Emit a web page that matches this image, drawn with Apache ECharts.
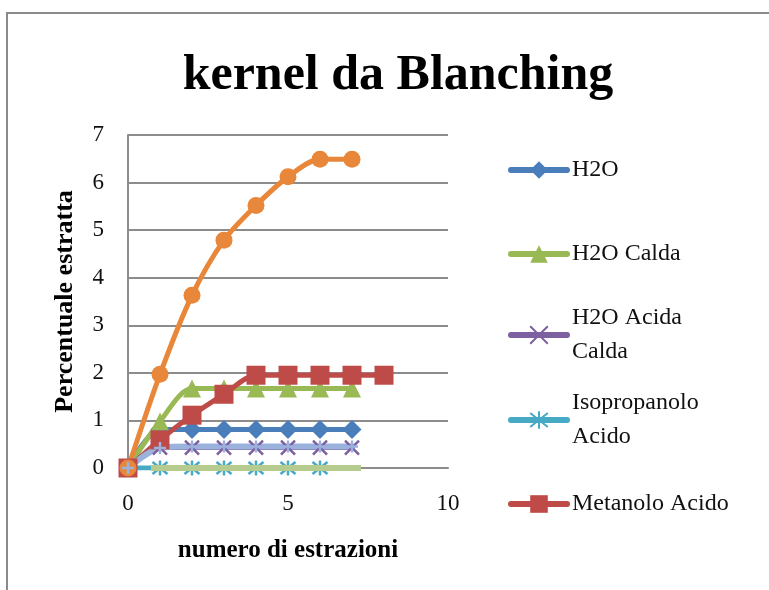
<!DOCTYPE html>
<html>
<head>
<meta charset="utf-8">
<script src="https://cdn.jsdelivr.net/npm/echarts@6/dist/echarts.min.js"></script>
<style>
  html, body { margin: 0; padding: 0; background: #fff; }
  #chart { width: 769px; height: 590px; }
</style>
</head>
<body>
<div id="chart"></div>
<script>
// estrazioni (asse x)
const xSteps = [0, 1, 2, 3, 4, 5, 6, 7, 8];

// serie con legenda
const h2o = [0, 0.81, 0.81, 0.81, 0.81, 0.81, 0.81, 0.81];
const h2oCalda = [0, 0.98, 1.67, 1.67, 1.67, 1.67, 1.67, 1.67];
const h2oAcidaCalda = [0, 0.43, 0.43, 0.43, 0.43, 0.43, 0.43, 0.43];
const isopropanoloAcido = [0, 0, 0, 0, 0, 0, 0];
const metanoloAcido = [0, 0.59, 1.11, 1.55, 1.95, 1.95, 1.95, 1.95, 1.95];
// serie senza voce in legenda
const serie6 = [0, 1.97, 3.63, 4.79, 5.52, 6.12, 6.49, 6.49];
const serie7 = [0, 0.42, 0.45, 0.45, 0.45, 0.45, 0.45, 0.45];
const serie8 = [null, 0, 0, 0, 0, 0, 0, 0];

const yTicks = [0, 1, 2, 3, 4, 5, 6, 7];
const xTicks = [0, 5, 10];

const FONT = '"Liberation Serif", "DejaVu Serif", serif';

const X_PATH = 'path://M0,0L10,10M10,0L0,10';
const STAR_PATH = 'path://M1,1L9,9M9,1L1,9M5,0L5,10';
const PLUS_PATH = 'path://M5,0L5,10M0,5L10,5';

const pairs = (vals) => vals.map((v, i) => [xSteps[i], v]);

const makeSeries = (name, vals, color, symbol, size, extra = {}) => ({
  name,
  type: 'line',
  data: pairs(vals),
  smooth: 0.3,
  symbol,
  symbolSize: size,
  showSymbol: true,
  lineStyle: { color, width: extra.lineWidth || 5, cap: 'round' },
  itemStyle: extra.stroked
    ? { color, borderColor: color, borderWidth: 2.5 }
    : { color },
  emphasis: { disabled: true }
});

const legendItem = (name, top, twoLines) => ({
  data: [name],
  left: 508,
  top,
  padding: 0,
  orient: 'vertical',
  itemWidth: 56,
  itemHeight: 22,
  selectedMode: false,
  lineStyle: { width: 6, cap: 'round' },
  formatter: (n) => n === 'H2O Acida Calda' ? 'H2O Acida\nCalda'
    : n === 'Isopropanolo Acido' ? 'Isopropanolo\nAcido' : n,
  textStyle: {
    fontFamily: FONT,
    fontSize: 24,
    color: '#111',
    lineHeight: 34,
    padding: twoLines ? [34, 0, 0, 0] : 0
  }
});

const chart = echarts.init(document.getElementById('chart'), null, { renderer: 'canvas' });

chart.setOption({
  animation: false,
  title: {
    text: 'kernel da Blanching',
    left: 393,
    textAlign: 'center',
    top: 46,
    textStyle: { fontFamily: FONT, fontSize: 50, fontWeight: 'bold', color: '#000' }
  },
  graphic: [{
    type: 'rect',
    shape: { x: 7, y: 13, width: 800, height: 620 },
    style: { fill: 'none', stroke: '#8a8a8a', lineWidth: 2 },
    silent: true
  }],
  legend: [
    legendItem('H2O', 153, false),
    legendItem('H2O Calda', 237, false),
    legendItem('H2O Acida Calda', 284, true),
    legendItem('Isopropanolo Acido', 369, true),
    legendItem('Metanolo Acido', 487, false)
  ],
  grid: { left: 128, top: 135, width: 320, height: 333, containLabel: false },
  xAxis: {
    type: 'value',
    min: xTicks[0],
    max: xTicks[xTicks.length - 1],
    interval: 5,
    name: 'numero di estrazioni',
    nameLocation: 'middle',
    nameGap: 70,
    nameTextStyle: { fontFamily: FONT, fontSize: 25, fontWeight: 'bold', color: '#000' },
    axisLine: { show: true, lineStyle: { color: '#8c8c8c', width: 2 } },
    axisTick: { show: false },
    splitLine: { show: false },
    axisLabel: { fontFamily: FONT, fontSize: 23, color: '#111', margin: 24 }
  },
  yAxis: {
    type: 'value',
    min: yTicks[0],
    max: yTicks[yTicks.length - 1],
    interval: 1,
    name: 'Percentuale estratta',
    nameLocation: 'middle',
    nameGap: 50,
    nameTextStyle: { fontFamily: FONT, fontSize: 26, fontWeight: 'bold', color: '#000' },
    axisLine: { show: true, lineStyle: { color: '#8c8c8c', width: 2 } },
    axisTick: { show: false },
    splitLine: { show: true, lineStyle: { color: '#8c8c8c', width: 2 } },
    axisLabel: { fontFamily: FONT, fontSize: 23, color: '#111', margin: 24 }
  },
  series: [
    makeSeries('H2O', h2o, '#4A7EBB', 'diamond', 19),
    makeSeries('H2O Calda', h2oCalda, '#98B954', 'triangle', 18),
    makeSeries('H2O Acida Calda', h2oAcidaCalda, '#7D60A0', X_PATH, 14, { stroked: true }),
    makeSeries('Isopropanolo Acido', isopropanoloAcido, '#46AAC5', STAR_PATH, 15, { stroked: true }),
    makeSeries('Metanolo Acido', metanoloAcido, '#BE4B48', 'rect', 19),
    makeSeries('Serie6', serie6, '#E8873A', 'circle', 17),
    makeSeries('Serie7', serie7, '#9AB2DC', PLUS_PATH, 12, { stroked: true, lineWidth: 6 }),
    makeSeries('Serie8', serie8, '#B5CC8E', 'rect', [18, 6], { lineWidth: 6 })
  ]
});
</script>
</body>
</html>
